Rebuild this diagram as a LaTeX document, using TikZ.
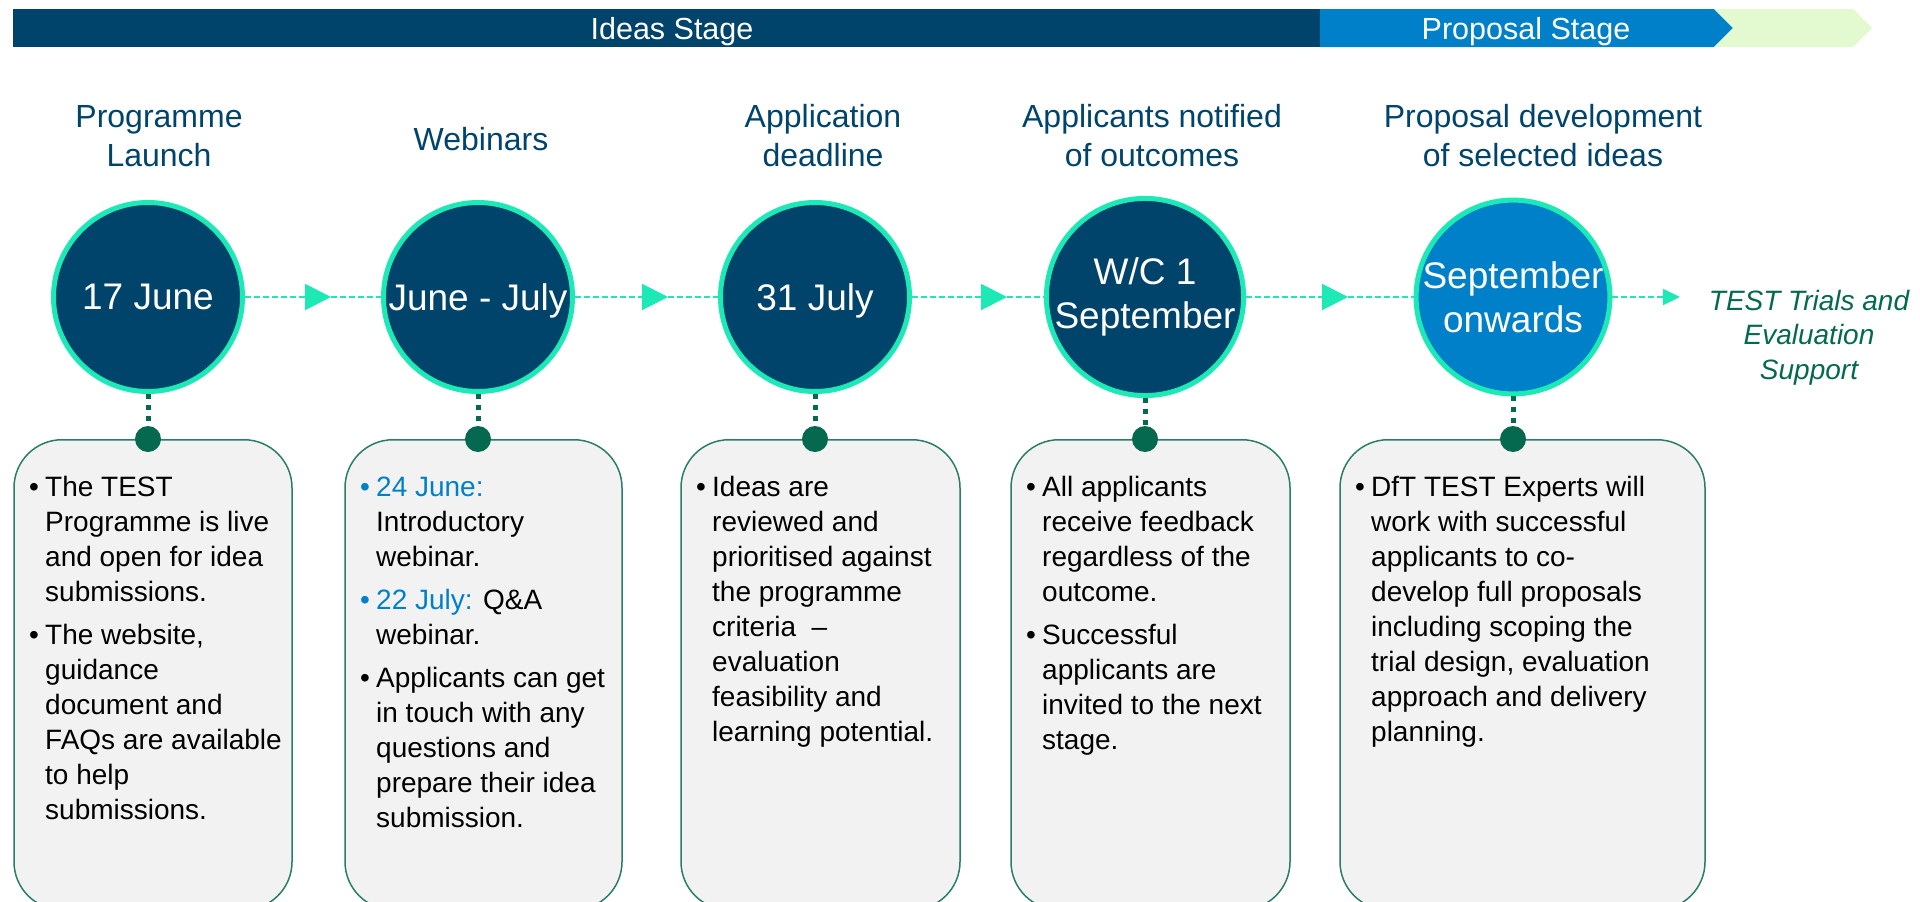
\documentclass[tikz,border=0pt]{standalone}
\usepackage{fontspec}
\setmainfont{Liberation Sans}
\usetikzlibrary{arrows.meta}
\definecolor{navy}{HTML}{00446B}
\definecolor{pblue}{HTML}{0080C9}
\definecolor{aqua}{HTML}{1DE9B6}
\definecolor{dgreen}{HTML}{04694F}
\definecolor{lgreen}{HTML}{E3FAD1}
\definecolor{boxfill}{HTML}{F2F2F2}
\definecolor{boxline}{HTML}{2A7D68}
\newcommand{\bul}{\makebox[16pt][l]{•}}
\newcommand{\bbul}{\makebox[16pt][l]{\color{pblue}•}}
\newcommand{\hl}[1]{\textcolor{pblue}{#1}}
\newcommand{\nodepth}[1]{\raisebox{0pt}[\height][0pt]{#1}}
\begin{document}
\begin{tikzpicture}[x=1pt,y=-1pt,
  stage/.style={circle, draw=aqua, line width=5pt, fill=navy, minimum size=189pt,
    inner sep=0pt, text=white, align=center, font=\fontsize{37}{44}\selectfont},
  heading/.style={anchor=base, inner sep=0pt, text=navy, font=\fontsize{32}{39}\selectfont},
  bartext/.style={anchor=base, inner sep=0pt, text=white, font=\fontsize{30.5}{36}\selectfont},
  flow/.style={draw=aqua, line width=2pt, dash pattern=on 6pt off 3pt},
  flowtip/.style={-{Triangle[length=26pt,width=26pt]}},
  endtip/.style={-{Triangle[length=17pt,width=16pt]}},
  stem/.style={draw=dgreen, line width=5pt, dash pattern=on 5pt off 6pt},
  pin/.style={circle, fill=dgreen, minimum size=26pt, inner sep=0pt},
  infobox/.style={draw=boxline, line width=1.5pt, fill=boxfill, rounded corners=48pt,
    anchor=north, minimum height=470pt, inner sep=0pt},
  infotext/.style={anchor=base west, inner sep=0pt, align=left, font=\fontsize{28}{35}\selectfont},
  outcome/.style={anchor=base, inner sep=0pt, text=dgreen, font=\itshape\fontsize{28}{34.5}\selectfont},
]
\useasboundingbox (0,0) rectangle (1920,902);
\clip (0,0) rectangle (1920,902);

% stage bar
\fill[navy] (13,9) rectangle (1320,47);
\fill[pblue] (1320,9) -- (1714,9) -- (1733,28) -- (1714,47) -- (1320,47) -- cycle;
\fill[lgreen] (1714,9) -- (1853,9) -- (1872,28) -- (1853,47) -- (1714,47) -- (1733,28) -- cycle;
\node[bartext] (ideas) at (672,39) {Ideas Stage};
\node[bartext] (proposal) at (1526,39) {Proposal Stage};

% headings
\node[heading] (h1) at (159,127) {\begin{tabular}[t]{@{}c@{}}Programme\\Launch\end{tabular}};
\node[heading] (h2) at (481,150) {Webinars};
\node[heading] (h3) at (823,127) {\begin{tabular}[t]{@{}c@{}}Application\\deadline\end{tabular}};
\node[heading] (h4) at (1152,127) {\begin{tabular}[t]{@{}c@{}}Applicants notified\\of outcomes\end{tabular}};
\node[heading] (h5) at (1543,127) {\begin{tabular}[t]{@{}c@{}}Proposal development\\of selected ideas\end{tabular}};

% boxes
\node[infobox, minimum width=278pt] (b1) at (153,439) {};
\node[infobox, minimum width=277pt] (b2) at (483.5,439) {};
\node[infobox, minimum width=279pt] (b3) at (820.5,439) {};
\node[infobox, minimum width=279pt] (b4) at (1150.5,439) {};
\node[infobox, minimum width=365pt] (b5) at (1522.5,439) {};

% circles
\node[stage] (c1) at (148,297) {\nodepth{17 June}};
\node[stage] (c2) at (478,297) {\nodepth{June - July}};
\node[stage] (c3) at (815,297) {\nodepth{31 July}};
\node[stage] (c4) at (1145,297) {W/C 1\\September};
\node[stage, fill=pblue] (c5) at (1513,297) {September\\onwards};

% flow connectors
\coordinate (m1) at (331,297);
\coordinate (m2) at (668,297);
\coordinate (m3) at (1007,297);
\coordinate (m4) at (1348,297);
\coordinate (m5) at (1680,297);
\draw[flow, flowtip] (c1) -- (m1);
\draw[flow] (m1) -- (c2);
\draw[flow, flowtip] (c2) -- (m2);
\draw[flow] (m2) -- (c3);
\draw[flow, flowtip] (c3) -- (m3);
\draw[flow] (m3) -- (c4);
\draw[flow, flowtip] (c4) -- (m4);
\draw[flow] (m4) -- (c5);
\draw[flow, endtip] (c5) -- (m5);

\node[outcome] (next) at (1809,310) {\begin{tabular}[t]{@{}c@{}}TEST Trials and\\Evaluation\\Support\end{tabular}};

% pins and stems
\node[pin] (d1) at (148,439) {};
\node[pin] (d2) at (478,439) {};
\node[pin] (d3) at (815,439) {};
\node[pin] (d4) at (1145,439) {};
\node[pin] (d5) at (1513,439) {};
\draw[stem] (c1.south) -- (d1);
\draw[stem] (c2.south) -- (d2);
\draw[stem] (c3.south) -- (d3);
\draw[stem] (c4.south) -- (d4);
\draw[stem] (c5.south) -- (d5);

% box texts
\node[infotext] (t1) at (29,496) {\begin{tabular}[t]{@{}l@{}l@{}}
\bul & The TEST\\
& Programme is live\\
& and open for idea\\
& submissions.\\[8pt]
\bul & The website,\\
& guidance\\
& document and\\
& FAQs are available\\
& to help\\
& submissions.
\end{tabular}};

\node[infotext] (t2) at (360,496) {\begin{tabular}[t]{@{}l@{}l@{}}
\bbul & \hl{24 June:}\\
& Introductory\\
& webinar.\\[8pt]
\bbul & \hl{22 July:} Q\&A\\
& webinar.\\[8pt]
\bul & Applicants can get\\
& in touch with any\\
& questions and\\
& prepare their idea\\
& submission.
\end{tabular}};

\node[infotext] (t3) at (696,496) {\begin{tabular}[t]{@{}l@{}l@{}}
\bul & Ideas are\\
& reviewed and\\
& prioritised against\\
& the programme\\
& criteria\ \ –\\
& evaluation\\
& feasibility and\\
& learning potential.
\end{tabular}};

\node[infotext] (t4) at (1026,496) {\begin{tabular}[t]{@{}l@{}l@{}}
\bul & All applicants\\
& receive feedback\\
& regardless of the\\
& outcome.\\[8pt]
\bul & Successful\\
& applicants are\\
& invited to the next\\
& stage.
\end{tabular}};

\node[infotext] (t5) at (1355,496) {\begin{tabular}[t]{@{}l@{}l@{}}
\bul & DfT TEST Experts will\\
& work with successful\\
& applicants to co-\\
& develop full proposals\\
& including scoping the\\
& trial design, evaluation\\
& approach and delivery\\
& planning.
\end{tabular}};
\end{tikzpicture}
\end{document}
